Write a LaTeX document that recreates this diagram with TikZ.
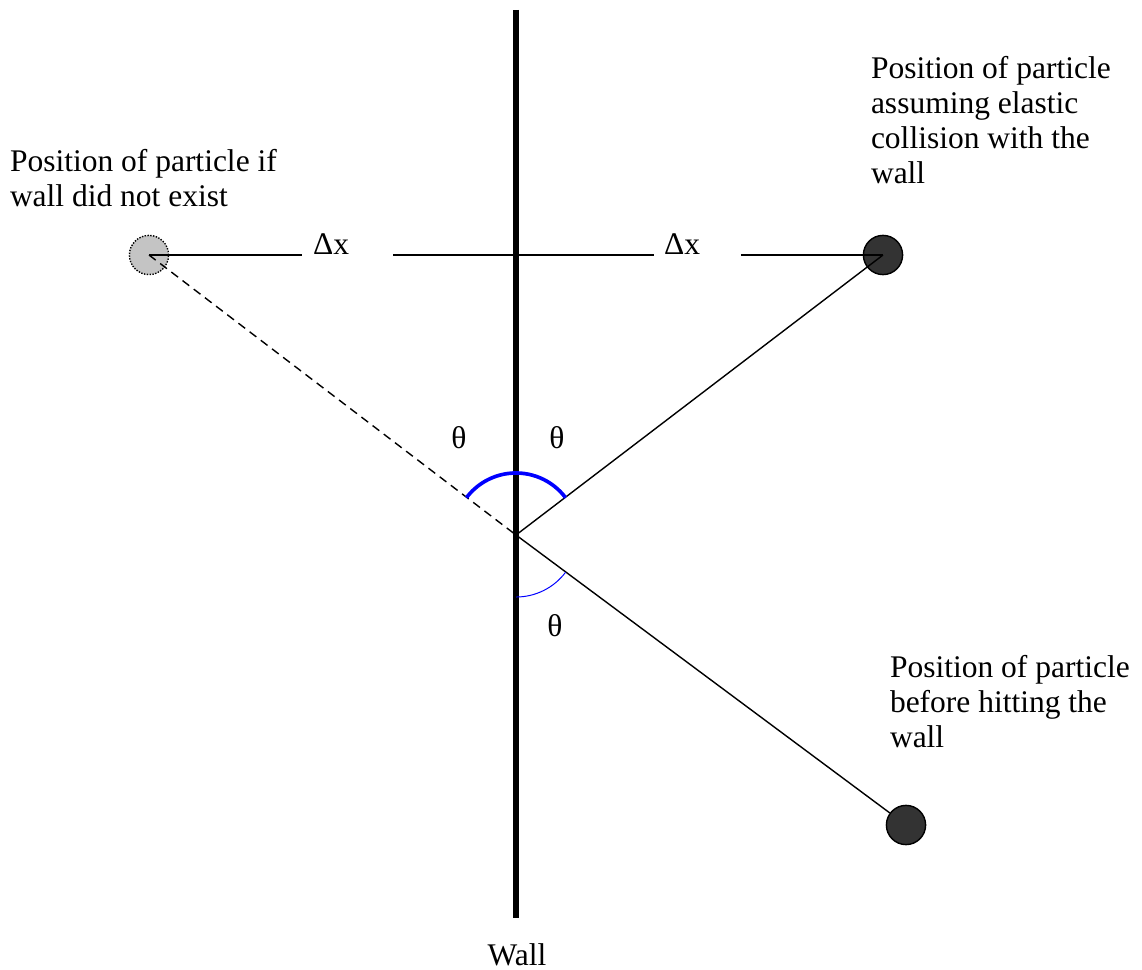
\documentclass[tikz,border=0pt]{standalone}
\usepackage{fontspec}
\setmainfont{Liberation Serif}
\usepackage{tikz}
\usetikzlibrary{positioning}

\definecolor{ballgray}{HTML}{333333}
\definecolor{ghostgray}{HTML}{C4C4C4}

\begin{document}
\begin{tikzpicture}[
  x=0.025cm, y=-0.025cm,
  lbl/.style={inner sep=0pt, outer sep=0pt, font=\fontsize{22.4}{24.9}\selectfont},
  txt/.style={lbl, align=left, anchor=north west},
  ball/.style={circle, draw=black, line width=1pt, fill=ballgray, minimum size=0.98cm, inner sep=0pt},
  ghostball/.style={ball, fill=ghostgray, densely dotted},
  line/.style={line width=1pt},
  wall/.style={line width=4.2pt},
  bigarc/.style={blue, line width=2.6pt},
  smallarc/.style={blue, line width=0.7pt}
]
\useasboundingbox (0,0) rectangle (1142,970);

% wall
\coordinate (walltop) at (516,10);
\coordinate (wallbot) at (516,918);
\coordinate (hit) at (516,535);
\node[lbl, anchor=base] (walllbl) at (517,965) {Wall};

% particles
\node[ghostball] (ghost) at (149,255) {};
\node[ball] (reflected) at (883,255) {};
\node[ball] (before) at (906,825) {};

% labels
\node[txt] (ghosttxt) at (10,149) {Position of particle if\\wall did not exist};
\node[txt] (reflectedtxt) at (871,56) {Position of particle\\assuming elastic\\collision with the\\wall};
\node[txt] (beforetxt) at (890,655) {Position of particle\\before hitting the\\wall};
\node[lbl, anchor=base west] (dxl) at (313,255) {Δx};
\node[lbl, anchor=base west] (dxr) at (664,255) {Δx};
\node[lbl] (thetal) at (459,438) {θ};
\node[lbl] (thetar) at (557,438) {θ};
\node[lbl] (thetab) at (555,626) {θ};

% paths
\draw[line] (ghost.center) -- ([xshift=-0.275cm]dxl.base west);
\draw[line] ([xshift=1.1cm]dxl.base east) -- ([xshift=-0.25cm]dxr.base west);
\draw[line] ([xshift=1.02cm]dxr.base east) -- (reflected.center);
\draw[line, dash pattern=on 6pt off 4pt] (ghost.center) -- (hit);
\draw[line] (hit) -- (reflected.center);
\draw[line] (hit) -- (before);
\draw[wall] (walltop) -- (wallbot);

% angles
\draw[bigarc] ([shift={(37:1.55cm)}]hit) arc[start angle=37, end angle=143, radius=1.55cm];
\draw[smallarc] ([shift={(-90:1.55cm)}]hit) arc[start angle=-90, end angle=-37, radius=1.55cm];
\end{tikzpicture}
\end{document}
